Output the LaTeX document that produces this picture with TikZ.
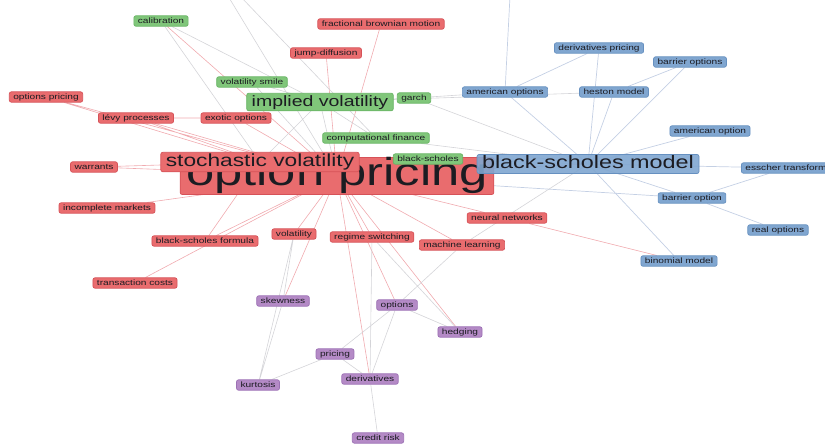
\documentclass[tikz,border=0pt]{standalone}
\usepackage{fontspec}
\setmainfont{Liberation Sans}[FakeStretch=1.3]
\usetikzlibrary{backgrounds}
\definecolor{kwtext}{RGB}{28,28,34}
\definecolor{kwred}{RGB}{233,108,110}
\definecolor{kwredline}{RGB}{214,82,88}
\definecolor{kwgreen}{RGB}{128,198,122}
\definecolor{kwgreenline}{RGB}{104,180,100}
\definecolor{kwblue}{RGB}{128,166,208}
\definecolor{kwblueline}{RGB}{102,144,192}
\definecolor{kwpurple}{RGB}{180,138,198}
\definecolor{kwpurpleline}{RGB}{156,112,180}
\definecolor{linkred}{RGB}{240,170,175}
\definecolor{linkblue}{RGB}{196,208,228}
\definecolor{linkgrey}{RGB}{212,212,216}
\tikzset{
    kw-box/.style = {rectangle, rounded corners=2pt, inner xsep=4pt, inner ysep=1.5pt, text=kwtext, line width=0.7pt, font=\fontsize{7.8}{8}\selectfont, text height=5.8pt, text depth=1.6pt},
    kw-red/.style = {kw-box, fill=kwred, draw=kwredline},
    kw-green/.style = {kw-box, fill=kwgreen, draw=kwgreenline},
    kw-blue/.style = {kw-box, fill=kwblue, draw=kwblueline},
    kw-purple/.style = {kw-box, fill=kwpurple, draw=kwpurpleline},
    kw-big/.style = {inner xsep=5pt, font=\fontsize{17.5}{18}\selectfont, text height=13pt, text depth=3.5pt},
    link-red/.style = {draw=linkred, line width=0.6pt},
    link-blue/.style = {draw=linkblue, line width=0.7pt},
    link-grey/.style = {draw=linkgrey, line width=0.6pt},
}

\begin{document}
\begin{tikzpicture}[x=1pt, y=-1pt]
\useasboundingbox (0,0) rectangle (825,445);
\clip (0,0) rectangle (825,445);

% red cluster
\node [kw-red, inner xsep=6pt, inner ysep=1pt, font=\fontsize{39}{40}\selectfont, text height=27pt, text depth=8pt] (op) at (337,176) {option pricing};
\node [kw-red, kw-big] (sv) at (260,162) {stochastic volatility};
\node [kw-red] (fbm) at (381,24) {fractional brownian motion};
\node [kw-red] (jd) at (326,53) {jump-diffusion};
\node [kw-red] (opp) at (46,97) {options pricing};
\node [kw-red] (levy) at (136,118) {lévy processes};
\node [kw-red] (exo) at (236,118) {exotic options};
\node [kw-red] (war) at (94,167) {warrants};
\node [kw-red] (inc) at (107,208) {incomplete markets};
\node [kw-red] (bsf) at (205,241) {black-scholes formula};
\node [kw-red] (tc) at (135,283) {transaction costs};
\node [kw-red] (vol) at (294,234) {volatility};
\node [kw-red] (rs) at (372,237) {regime switching};
\node [kw-red] (ml) at (462,245) {machine learning};
\node [kw-red] (nn) at (507,218) {neural networks};

% green cluster
\node [kw-green] (cal) at (161,21) {calibration};
\node [kw-green] (vs) at (252,82) {volatility smile};
\node [kw-green, kw-big, font=\fontsize{15}{16}\selectfont, text height=11.5pt, text depth=3pt] (iv) at (320,102) {implied volatility};
\node [kw-green] (garch) at (414,98) {garch};
\node [kw-green] (cf) at (376,138) {computational finance};
\node [kw-green] (bs) at (428,159) {black-scholes};

% blue cluster
\node [kw-blue, kw-big, font=\fontsize{18}{19}\selectfont, text height=12.5pt, text depth=3.5pt, fill opacity=0.9, text opacity=1] (bsm) at (588,164) {black-scholes model};
\node [kw-blue] (dp) at (599,48) {derivatives pricing};
\node [kw-blue] (bo) at (690,62) {barrier options};
\node [kw-blue] (ao) at (505,92) {american options};
\node [kw-blue] (hm) at (614,92) {heston model};
\node [kw-blue] (am) at (710,131) {american option};
\node [kw-blue] (et) at (786,168) {esscher transform};
\node [kw-blue] (bar) at (692,198) {barrier option};
\node [kw-blue] (ro) at (778,230) {real options};
\node [kw-blue] (bin) at (679,261) {binomial model};

% purple cluster
\node [kw-purple] (skew) at (283,301) {skewness};
\node [kw-purple] (opts) at (397,305) {options};
\node [kw-purple] (hedg) at (460,332) {hedging};
\node [kw-purple] (pric) at (335,354) {pricing};
\node [kw-purple] (kurt) at (258,385) {kurtosis};
\node [kw-purple] (deriv) at (370,379) {derivatives};
\node [kw-purple] (cr) at (378,438) {credit risk};

% links leaving the frame
\coordinate (up-a) at (228,-4);
\coordinate (up-b) at (240,-4);
\coordinate (up-c) at (510,-4);

\begin{pgfonlayer}{background}
\draw [link-red] (op.center) -- (opp) (op.center) -- (levy) (op.center) -- (exo)
    (op.center) -- (war) (sv.center) -- (war) (op.center) -- (inc) (op.center) -- (bsf)
    (op.center) -- (tc) (op.center) -- (vol) (op.center) -- (rs) (op.center) -- (ml)
    (op.center) -- (nn) (op.center) -- (jd) (op.center) -- (fbm) (levy) -- (exo)
    (opp) -- (sv.center) (levy) -- (sv.center) (sv.center) -- (bsf) (nn) -- (bin)
    (op.center) -- (skew) (op.center) -- (opts) (op.center) -- (deriv) (op.center) -- (hedg)
    (op.center) -- (cal) (op.center) -- (bsm.center);
\draw [link-grey] (iv.center) -- (vs) (iv.center) -- (cal) (iv.center) -- (garch)
    (iv.center) -- (cf) (iv.center) -- (sv.center) (iv.center) -- (op.center) (iv.center) -- (hm)
    (cal) -- (sv.center) (vs) -- (op.center) (garch) -- (bsm.center) (cf) -- (bsm.center)
    (garch) -- (ao) (bs) -- (bsm.center) (up-a) -- (op.center) (up-b) -- (cf)
    (vol) -- (skew) (rs) -- (deriv) (ml) -- (opts) (vol) -- (kurt) (rs) -- (hedg)
    (opts) -- (hedg) (opts) -- (pric) (opts) -- (deriv) (pric) -- (kurt) (pric) -- (deriv)
    (deriv) -- (cr) (skew) -- (kurt) (ml) -- (bsm.center);
\draw [link-blue] (bsm.center) -- (dp) (bsm.center) -- (bo) (bsm.center) -- (ao)
    (bsm.center) -- (hm) (bsm.center) -- (am) (bsm.center) -- (et) (bsm.center) -- (bar)
    (bsm.center) -- (bin) (bar) -- (et) (bar) -- (ro) (up-c) -- (ao) (ao) -- (dp)
    (hm) -- (bo) (bar) -- (op.center);
\end{pgfonlayer}
\end{tikzpicture}
\end{document}
